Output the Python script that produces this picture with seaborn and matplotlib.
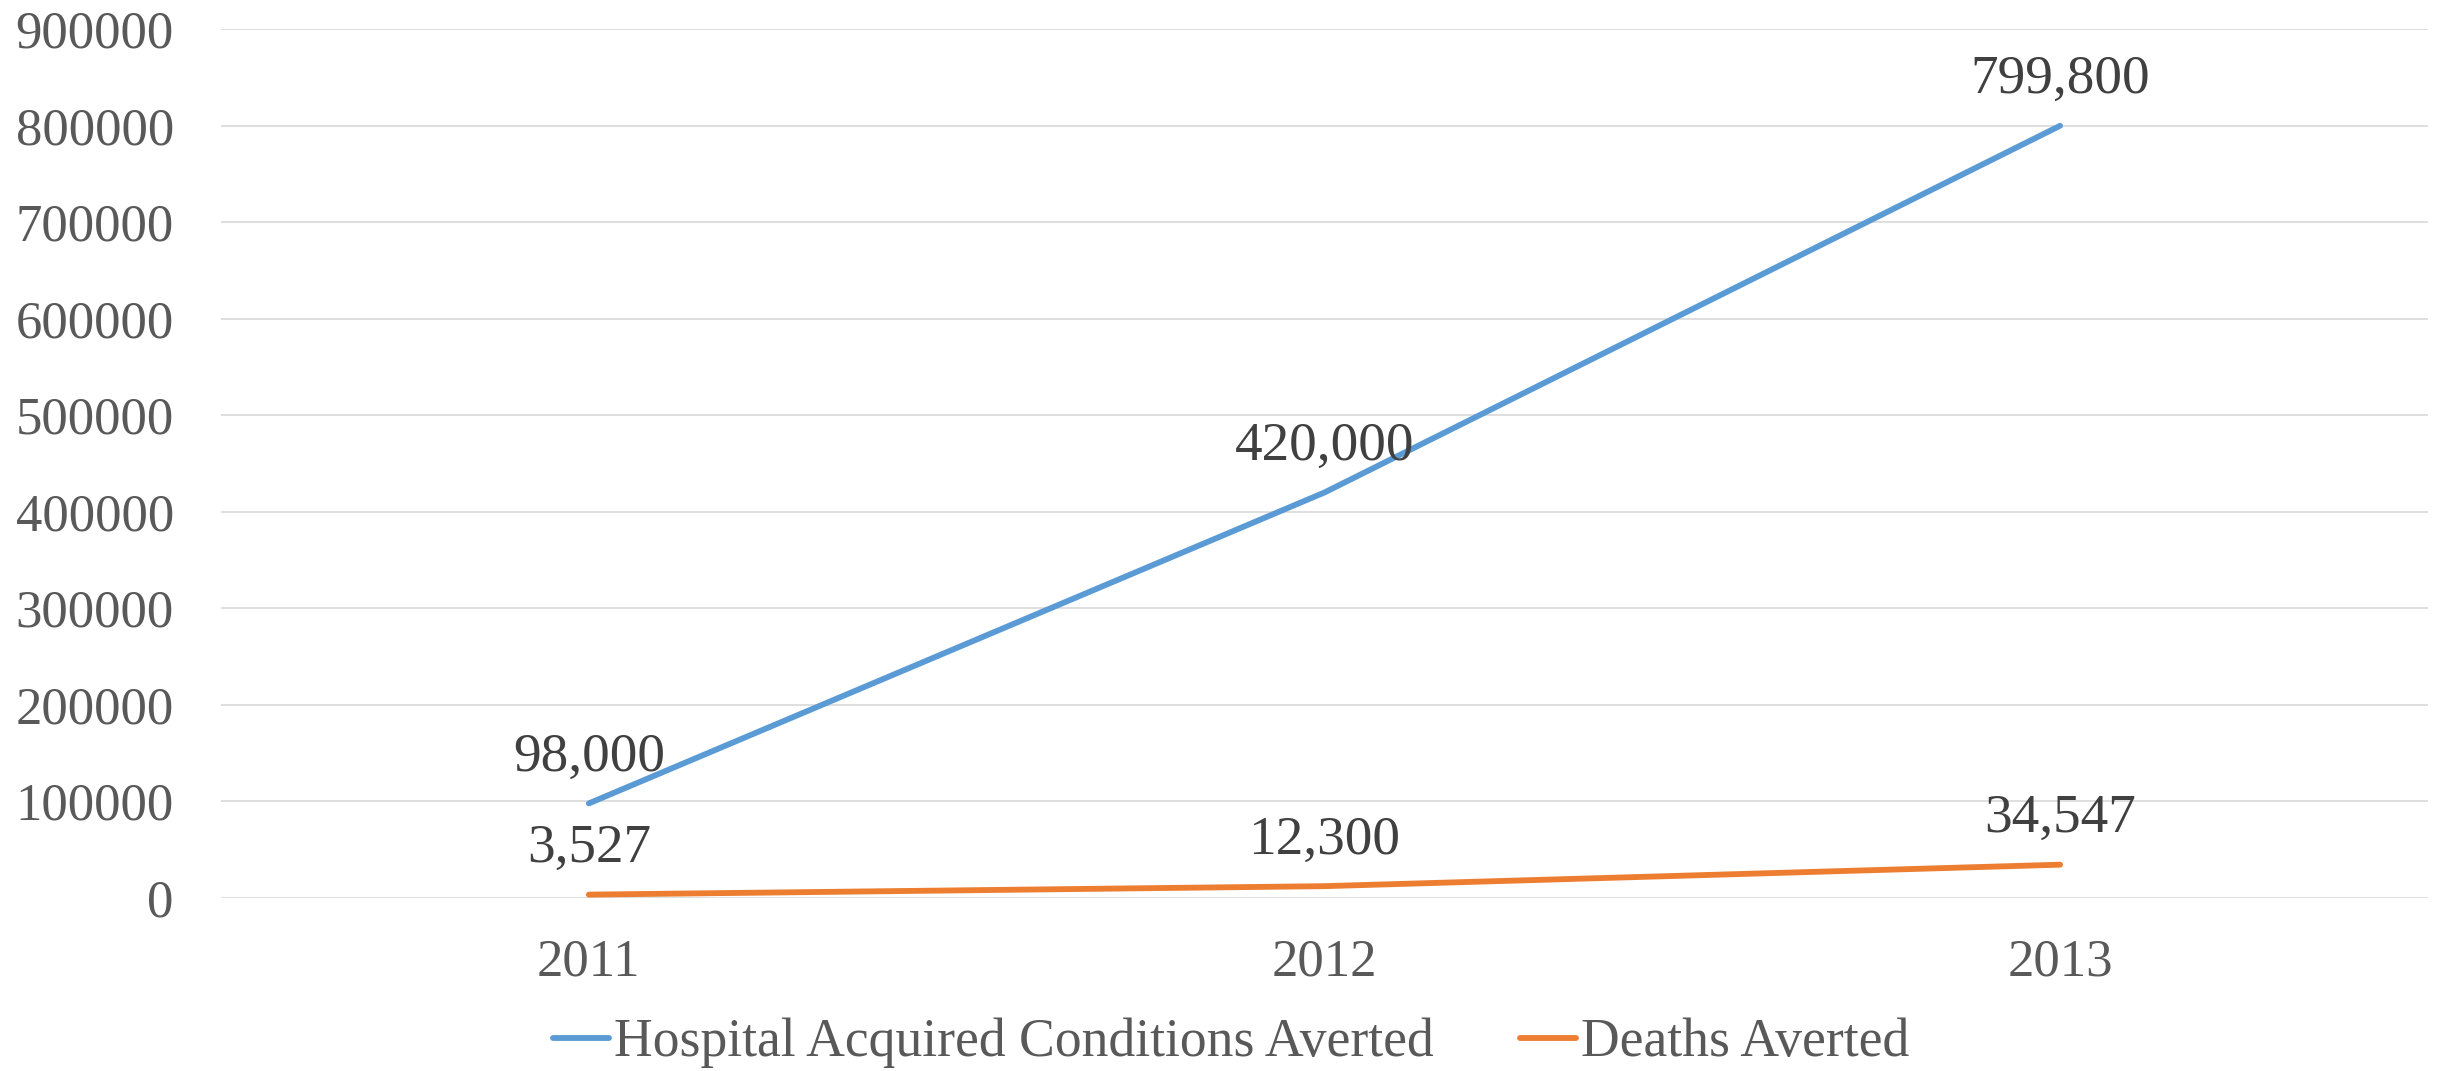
import matplotlib
matplotlib.use("Agg")
import matplotlib.pyplot as plt
import seaborn as sns
import pandas as pd

years = ["2011", "2012", "2013"]
hac_averted = [98000, 420000, 799800]
deaths_averted = [3527, 12300, 34547]
series_names = ["Hospital Acquired Conditions Averted", "Deaths Averted"]
series_colors = ["#5B9BD5", "#ED7D31"]
y_ticks = [0, 100000, 200000, 300000, 400000, 500000, 600000, 700000, 800000, 900000]

sns.set_theme(style="white")
plt.rcParams["font.family"] = ["Liberation Serif", "DejaVu Serif"]

df = pd.DataFrame({
    "pos": list(range(len(years))) * 2,
    "value": hac_averted + deaths_averted,
    "series": [series_names[0]] * len(years) + [series_names[1]] * len(years),
})

fig = plt.figure(figsize=(24.45, 10.71), dpi=100)
ax = fig.add_axes([0.0904, 0.1615, 0.9026, 0.8114])

sns.lineplot(data=df, x="pos", y="value", hue="series", hue_order=series_names,
             palette=series_colors, linewidth=4.2, solid_capstyle="round",
             ax=ax, legend=True)

# value labels above each point
for name, vals in zip(series_names, [hac_averted, deaths_averted]):
    for i, v in enumerate(vals):
        ax.annotate(f"{v:,}", (i, v), xytext=(0, 33), textcoords="offset points",
                    ha="center", va="center", fontsize=39.8, color="#404040")

ax.set_xlim(-0.5, 2.5)
ax.set_ylim(0, 900000)
ax.set_xticks(range(len(years)))
ax.set_xticklabels(years)
ax.set_yticks(y_ticks)
ax.set_yticklabels([str(t) for t in y_ticks])
ax.tick_params(axis="both", length=0, labelsize=38, labelcolor="#595959")
ax.tick_params(axis="y", pad=34)
ax.tick_params(axis="x", pad=29)
ax.set_xlabel("")
ax.set_ylabel("")
ax.yaxis.grid(True, color="#D9D9D9", linewidth=1.2)
ax.xaxis.grid(False)
for s in ax.spines.values():
    s.set_visible(False)

handles, labels = ax.get_legend_handles_labels()
ax.get_legend().remove()
leg = fig.legend(handles, labels, loc="center", bbox_to_anchor=(0.5035, 0.026),
                 ncol=2, frameon=False, fontsize=38.6, handlelength=1.05,
                 handletextpad=0.1, columnspacing=1.6, labelcolor="#595959")
for h in leg.get_lines():
    h.set_linewidth(4.2)

fig.savefig("out.png", dpi=100, facecolor="white")
